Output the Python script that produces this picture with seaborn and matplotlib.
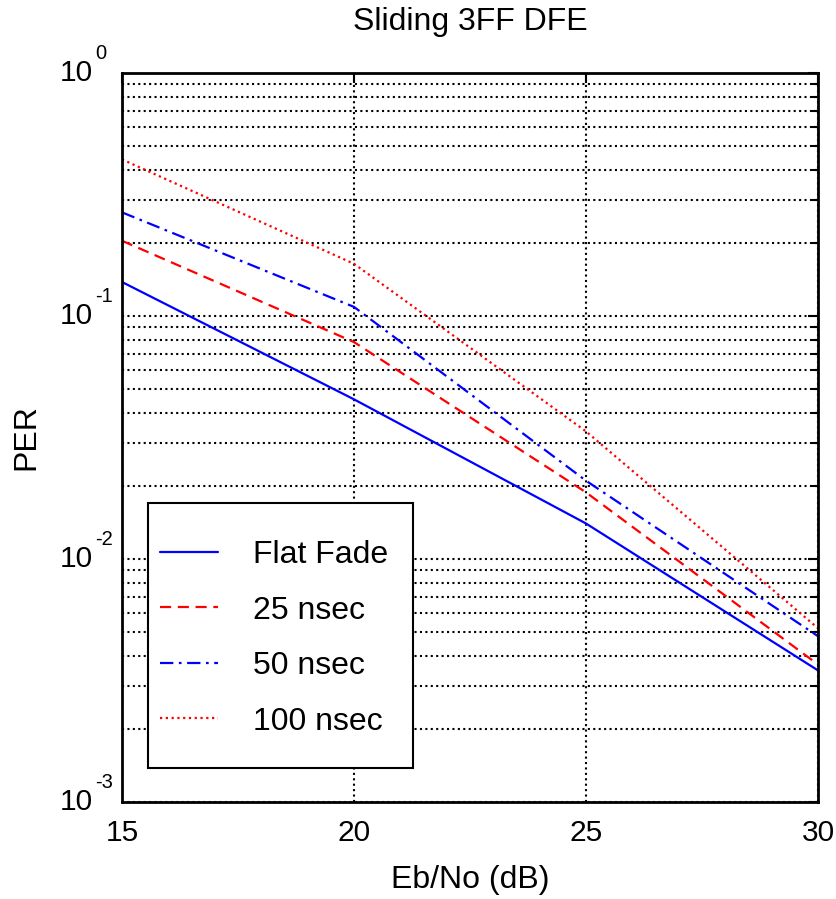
import numpy as np
import pandas as pd
import matplotlib
matplotlib.use("Agg")
import matplotlib.pyplot as plt
import matplotlib.transforms as mtransforms
from matplotlib.patches import Rectangle
import seaborn as sns
from matplotlib.ticker import LogLocator, FixedLocator, NullFormatter

ebno = [15, 20, 25, 30]
flat_fade = [0.138, 0.0454, 0.0140, 0.00348]
ns25 = [0.204, 0.0781, 0.0188, 0.00368]
ns50 = [0.267, 0.109, 0.0210, 0.00481]
ns100 = [0.441, 0.164, 0.0335, 0.00519]
series_names = ["Flat Fade", "25 nsec", "50 nsec", "100 nsec"]
x_ticks = [15, 20, 25, 30]
y_decades = [-3, -2, -1, 0]

sns.set_theme(style="white")
plt.rcParams["font.family"] = ["Liberation Sans", "DejaVu Sans"]
plt.rcParams["text.color"] = "black"
plt.rcParams["axes.labelcolor"] = "black"
plt.rcParams["xtick.color"] = "black"
plt.rcParams["ytick.color"] = "black"

rows = []
for name, vals in zip(series_names, [flat_fade, ns25, ns50, ns100]):
    for x, v in zip(ebno, vals):
        rows.append({"Eb/No": x, "PER": v, "series": name})
df = pd.DataFrame(rows)

palette = {"Flat Fade": "#0000ff", "25 nsec": "#ff0000", "50 nsec": "#0000ff", "100 nsec": "#ff0000"}
dashes = {"Flat Fade": "", "25 nsec": (5, 3), "50 nsec": (6, 2.5, 1.2, 2.5), "100 nsec": (1, 1.6)}

fig = plt.figure(figsize=(8.36, 8.99), dpi=100)
ax = fig.add_axes([122/836, 1-802/899, 696/836, 729/899])

sns.lineplot(data=df, x="Eb/No", y="PER", hue="series", style="series",
             palette=palette, dashes=dashes, hue_order=series_names,
             style_order=series_names, linewidth=1.6, ax=ax, legend=True)

ax.set_yscale("log")
ax.set_xlim(15, 30)
ax.set_ylim(1e-3, 1)
ax.xaxis.set_major_locator(FixedLocator(x_ticks))
ax.yaxis.set_major_locator(FixedLocator([10.0**d for d in y_decades]))
ax.yaxis.set_minor_locator(LogLocator(base=10, subs=np.arange(2, 10), numticks=20))
ax.yaxis.set_major_formatter(NullFormatter())
ax.yaxis.set_minor_formatter(NullFormatter())

grid_kw = dict(color="black", linestyle=(0, (1.0, 1.6)), linewidth=1.5)
ax.grid(True, which="major", axis="both", **grid_kw)
ax.grid(True, which="minor", axis="y", **grid_kw)
ax.set_axisbelow(True)

for s in ax.spines.values():
    s.set_color("black")
    s.set_linewidth(2)

ax.tick_params(axis="both", which="both", direction="in", top=True, right=True,
               labelsize=21.5, colors="black", width=1.5)
ax.tick_params(axis="both", which="major", length=7)
ax.tick_params(axis="x", which="major", pad=12)
ax.tick_params(axis="y", which="minor", length=4)
ax.tick_params(axis="x", which="minor", length=0)

# y tick labels as 10 with a superscript exponent
blend = mtransforms.blended_transform_factory(ax.transAxes, ax.transData)
base_tr = mtransforms.offset_copy(blend, fig=fig, x=0, y=-8, units="dots")
exp_tr = mtransforms.offset_copy(blend, fig=fig, x=0, y=14, units="dots")
for d in y_decades:
    ax.text(-29/696, 10.0**d, "10", transform=base_tr, ha="right", va="baseline",
            fontsize=21.5, clip_on=False)
    ax.text(-27/696, 10.0**d, f"{d}", transform=exp_tr, ha="left", va="baseline",
            fontsize=14.5, clip_on=False)

ax.set_title("Sliding 3FF DFE", fontsize=23, pad=31)
ax.set_xlabel("Eb/No (dB)", fontsize=23, va="baseline")
ax.xaxis.set_label_coords(0.5, (802-888)/729)
ax.set_ylabel("PER", fontsize=23, va="baseline")
ax.yaxis.set_label_coords((34-122)/696, 0.5)

box = Rectangle((26/696, (802-768)/729), 265/696, 265/729, transform=ax.transAxes,
                facecolor="white", edgecolor="black", linewidth=1.5, zorder=4)
ax.add_patch(box)

leg = ax.legend(loc="upper left", bbox_to_anchor=(38/696, (802-540)/729),
                borderaxespad=0, fontsize=23, frameon=False, handlelength=1.8,
                handletextpad=1.1, labelspacing=0.8, borderpad=0)
leg.set_zorder(5)

fig.savefig("out.png", dpi=100, facecolor="white")
